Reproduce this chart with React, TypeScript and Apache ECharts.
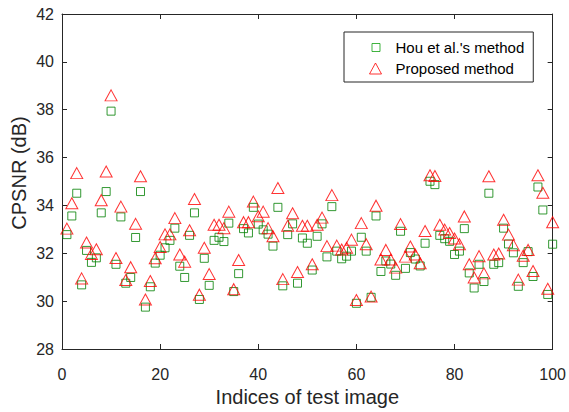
import React, { useEffect, useRef } from "react";
import * as echarts from "echarts";

// Image indices 1..100
const houValues: number[] = [
  32.78, 33.56, 34.51, 30.68, 32.12, 31.62, 31.81, 33.69, 34.58, 37.94,
  31.54, 33.52, 30.75, 30.99, 32.66, 34.58, 29.75, 30.6, 31.59, 31.92,
  32.23, 32.54, 33.05, 31.46, 30.99, 32.75, 33.69, 30.07, 31.79, 30.66,
  32.54, 32.67, 32.49, 33.26, 30.4, 31.15, 33.03, 32.85, 33.92, 33.22,
  32.98, 32.8, 32.3, 33.92, 30.64, 32.78, 33.23, 30.75, 32.64, 32.42,
  31.3, 32.71, 33.23, 31.85, 33.95, 32.09, 31.77, 31.88, 32.09, 29.91,
  32.67, 32.09, 30.16, 33.56, 31.24, 31.68, 31.55, 31.08, 32.92, 31.37,
  32.03, 31.76, 31.47, 32.42, 35.01, 34.87, 32.75, 32.61, 32.5, 31.95,
  32.09, 33.03, 31.18, 30.55, 31.54, 30.82, 34.51, 31.54, 31.61, 33.05,
  32.39, 32.02, 30.62, 31.61, 32.07, 31.03, 34.77, 33.81, 30.28, 32.38,
];

const proposedValues: number[] = [
  33.03, 34.09, 35.35, 30.95, 32.45, 31.97, 32.17, 34.22, 35.42, 38.6,
  31.8, 33.95, 30.88, 31.42, 33.23, 35.22, 30.07, 30.84, 31.79, 32.26,
  32.79, 32.79, 33.47, 31.95, 31.65, 32.96, 34.27, 30.27, 32.23, 31.13,
  33.19, 33.19, 33.05, 33.74, 30.5, 31.72, 33.3, 33.3, 34.16, 33.55,
  33.74, 33.05, 32.71, 34.73, 30.92, 33.15, 33.67, 31.22, 33.15, 33.15,
  31.54, 33.19, 33.49, 32.3, 34.43, 32.32, 32.16, 32.23, 32.57, 30.05,
  33.26, 32.38, 30.19, 33.99, 31.74, 32.14, 31.74, 31.4, 33.22, 31.86,
  32.28, 31.95, 31.58, 32.93, 35.26, 35.23, 33.19, 32.99, 32.85, 32.62,
  32.38, 33.54, 31.54, 30.99, 31.88, 31.16, 35.22, 31.95, 31.99, 33.4,
  32.78, 32.34, 30.9, 31.9, 32.14, 31.26, 35.26, 34.53, 30.52, 33.3,
];

const seriesNames = ["Hou et al.'s method", "Proposed method"];
const xTitle = "Indices of test image";
const yTitle = "CPSNR (dB)";

const AXIS = "#262626";
const GREEN = "#008000";
const LEGEND_GREEN = "#10a010";
const RED = "#ff0000";
const FONT = "'Liberation Sans', Arial, Helvetica, sans-serif";

export default function App() {
  const ref = useRef<HTMLDivElement>(null);

  useEffect(() => {
    document.body.style.margin = "0";
    if (!ref.current) return;
    const chart = echarts.init(ref.current, undefined, { renderer: "svg" });

    const houData = houValues.map((v, i) => [i + 1, v]);
    const propData = proposedValues.map((v, i) => [i + 1, v]);

    const baseX = {
      type: "value",
      min: 0,
      max: 100,
      interval: 20,
      splitLine: { show: false },
      axisLine: { show: true, onZero: false, lineStyle: { color: AXIS, width: 1 } },
      axisTick: { show: true, inside: true, length: 5, lineStyle: { color: AXIS } },
    };
    const baseY = {
      type: "value",
      min: 28,
      max: 42,
      interval: 2,
      splitLine: { show: false },
      axisLine: { show: true, onZero: false, lineStyle: { color: AXIS, width: 1 } },
      axisTick: { show: true, inside: true, length: 5, lineStyle: { color: AXIS } },
    };

    chart.setOption({
      animation: false,
      backgroundColor: "#ffffff",
      textStyle: { fontFamily: FONT },
      grid: { left: 62, right: 16, top: 14, bottom: 60, containLabel: false },
      xAxis: [
        {
          ...baseX,
          position: "bottom",
          name: xTitle,
          nameLocation: "middle",
          nameGap: 38,
          nameTextStyle: { fontSize: 20, color: AXIS, fontFamily: FONT },
          axisLabel: { show: true, fontSize: 16, color: AXIS, margin: 17, fontFamily: FONT },
        },
        {
          ...baseX,
          position: "top",
          axisLabel: { show: false },
        },
      ],
      yAxis: [
        {
          ...baseY,
          position: "left",
          axisLabel: { show: true, fontSize: 16, color: AXIS, margin: 8, fontFamily: FONT },
        },
        {
          ...baseY,
          position: "right",
          axisLabel: { show: false },
        },
      ],
      legend: {
        orient: "vertical",
        left: 344,
        top: 32,
        itemWidth: 21,
        itemHeight: 11,
        itemGap: 6,
        padding: [8, 9, 6, 25],
        borderColor: AXIS,
        borderWidth: 1,
        backgroundColor: "#ffffff",
        textStyle: { fontSize: 15, color: "#000000", fontFamily: FONT },
        data: [
          {
            name: seriesNames[0],
            icon: "path://M2.5,1.5L10.5,1.5L10.5,9.5L2.5,9.5Z M0,0 M21,11",
            itemStyle: { color: "rgba(0,0,0,0)", borderColor: LEGEND_GREEN, borderWidth: 1 },
          },
          {
            name: seriesNames[1],
            icon: "path://M0,11L6,0L12,11Z M21,0",
            itemStyle: { color: "rgba(0,0,0,0)", borderColor: RED, borderWidth: 1 },
          },
        ],
      },
      graphic: [
        {
          type: "text",
          x: 18.5,
          y: 173,
          rotation: Math.PI / 2,
          style: {
            text: yTitle,
            fontSize: 20,
            fontFamily: FONT,
            fill: AXIS,
            align: "center",
            verticalAlign: "middle",
          },
        },
      ],
      series: [
        {
          name: seriesNames[0],
          type: "scatter",
          xAxisIndex: 0,
          yAxisIndex: 0,
          symbol: "rect",
          symbolSize: 8,
          itemStyle: { color: "rgba(0,0,0,0)", borderColor: GREEN, borderWidth: 1 },
          data: houData,
        },
        {
          name: seriesNames[1],
          type: "scatter",
          xAxisIndex: 0,
          yAxisIndex: 0,
          symbol: "triangle",
          symbolSize: [12, 11],
          itemStyle: { color: "rgba(0,0,0,0)", borderColor: RED, borderWidth: 1 },
          data: propData,
        },
      ],
    });

    return () => {
      chart.dispose();
    };
  }, []);

  return <div ref={ref} style={{ width: 569, height: 412 }} />;
}
